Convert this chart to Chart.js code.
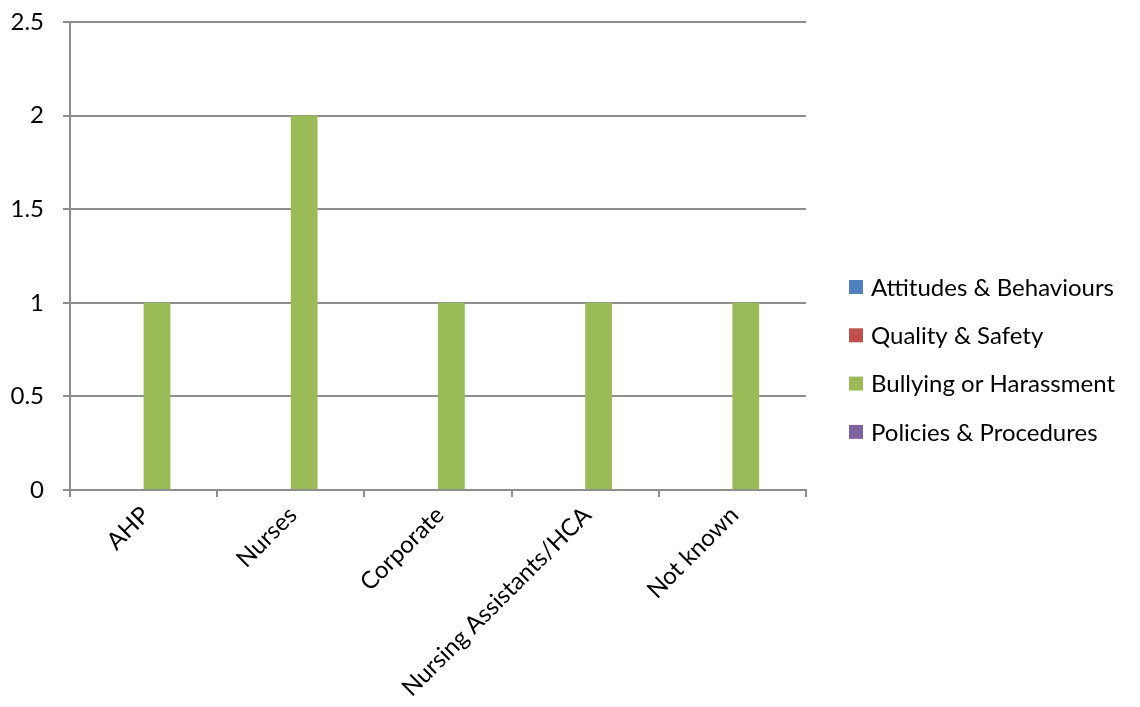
<!DOCTYPE html>
<html>
<head>
<meta charset="utf-8">
<script src="https://cdn.jsdelivr.net/npm/chart.js@4/dist/chart.umd.min.js"></script>
<style>
  html, body { margin: 0; padding: 0; background: #ffffff; }
  #wrap { width: 1140px; height: 707px; }
</style>
</head>
<body>
<div id="wrap"><canvas id="chart" width="1140" height="707"></canvas></div>
<script>
// Staff group categories on the x axis
const categories = ['AHP', 'Nurses', 'Corporate', 'Nursing Assistants/HCA', 'Not known'];

// Concern types (series) and their counts per staff group
const seriesNames = ['Attitudes & Behaviours', 'Quality & Safety', 'Bullying or Harassment', 'Policies & Procedures'];
const attitudesBehaviours = [0, 0, 0, 0, 0];
const qualitySafety = [0, 0, 0, 0, 0];
const bullyingHarassment = [1, 2, 1, 1, 1];
const policiesProcedures = [0, 0, 0, 0, 0];

// Y axis range
const yMin = 0;
const yMax = 2.5;
const yStep = 0.5;

const seriesColors = ['#4F81BD', '#C0504D', '#9BBB59', '#8064A2'];
const seriesValues = [attitudesBehaviours, qualitySafety, bullyingHarassment, policiesProcedures];

const FONT = 'Lato, Carlito, Calibri, "Noto Sans", sans-serif';
const FONT_SIZE = 24;
const AXIS_GREY = '#8E8E8E';

// Legend drawn at the right of the plot area
const sideLegend = {
  id: 'sideLegend',
  afterDraw(chart) {
    const ctx = chart.ctx;
    ctx.save();
    ctx.font = FONT_SIZE + 'px ' + FONT;
    ctx.textBaseline = 'middle';
    ctx.textAlign = 'left';
    const x0 = 849, box = 14, y0 = 287, gap = 48.3;
    chart.data.datasets.forEach((ds, i) => {
      const y = y0 + i * gap;
      ctx.fillStyle = ds.backgroundColor;
      ctx.fillRect(x0, y - box / 2, box, box);
      ctx.fillStyle = '#000000';
      ctx.fillText(ds.label, x0 + 22, y + 1);
    });
    ctx.restore();
  }
};

new Chart(document.getElementById('chart'), {
  type: 'bar',
  data: {
    labels: categories,
    datasets: seriesNames.map((name, i) => ({
      label: name,
      data: seriesValues[i],
      backgroundColor: seriesColors[i],
      borderWidth: 0,
      categoryPercentage: 4 / 5.5,
      barPercentage: 1
    }))
  },
  options: {
    responsive: false,
    animation: false,
    layout: { padding: { top: 22, right: 334, bottom: 0, left: 0 } },
    plugins: {
      legend: { display: false },
      tooltip: { enabled: false }
    },
    scales: {
      x: {
        grid: {
          drawOnChartArea: false,
          drawTicks: true,
          tickLength: 7,
          color: AXIS_GREY,
          lineWidth: 2,
          offset: true
        },
        border: { color: AXIS_GREY, width: 2 },
        ticks: {
          color: '#000000',
          font: { family: FONT, size: FONT_SIZE },
          minRotation: 45,
          maxRotation: 45,
          padding: 4,
          labelOffset: 2
        },
        afterFit(scale) {
          scale.height = 217;
          scale.paddingTop = 0;
          scale.paddingLeft = 0;
          scale.paddingRight = 0;
        }
      },
      y: {
        min: yMin,
        max: yMax,
        grid: {
          color: AXIS_GREY,
          lineWidth: 2,
          drawTicks: true,
          tickLength: 7
        },
        border: { color: AXIS_GREY, width: 2 },
        ticks: {
          stepSize: yStep,
          color: '#000000',
          font: { family: FONT, size: FONT_SIZE },
          padding: 19,
          callback: (v) => String(Number(v))
        },
        afterFit(scale) {
          scale.width = 70;
          scale.paddingTop = 0;
          scale.paddingBottom = 0;
        }
      }
    }
  },
  plugins: [sideLegend]
});
</script>
</body>
</html>
